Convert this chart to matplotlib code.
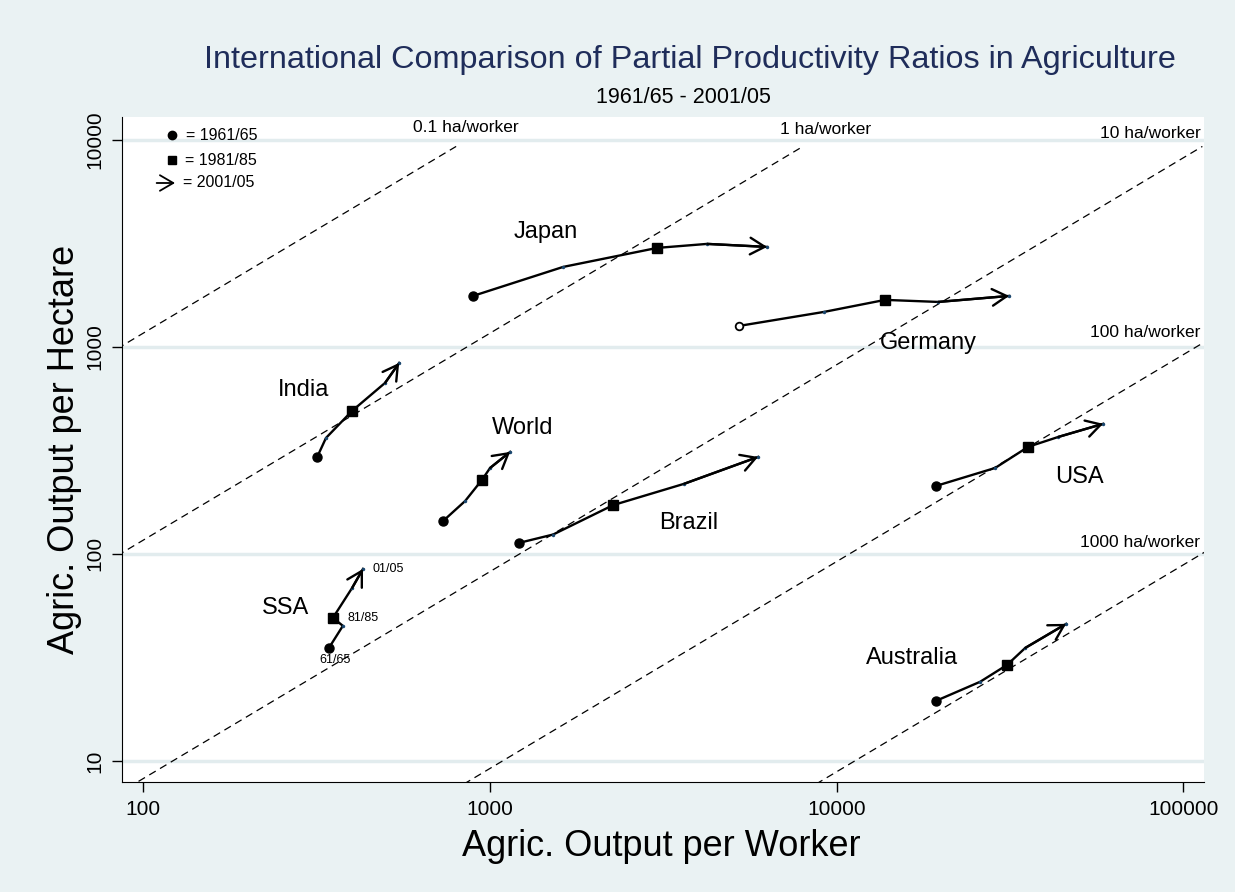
import matplotlib
matplotlib.use("Agg")
import matplotlib.pyplot as plt

plt.rcParams['font.family'] = ['Liberation Sans', 'DejaVu Sans']

# output per worker (x) and output per hectare (y) for
# 1961/65, 1971/75, 1981/85, 1991/95, 2001/05
countries = ["Japan", "Germany", "India", "World", "Brazil", "USA", "SSA", "Australia"]
japan_x = [895, 1627, 3039, 4236, 6308]
japan_y = [1763, 2434, 3008, 3145, 3041]
germany_x = [5237, 9206, 13804, 19640, 31470]
germany_y = [1263, 1476, 1687, 1649, 1763]
india_x = [318, 337, 401, 499, 548]
india_y = [294, 363, 491, 670, 837]
world_x = [733, 849, 950, 1002, 1145]
world_y = [144, 180, 228, 260, 311]
brazil_x = [1215, 1523, 2268, 3634, 5940]
brazil_y = [113, 124, 172, 218, 294]
usa_x = [19370, 28660, 35700, 43550, 58740]
usa_y = [213, 260, 329, 367, 425]
ssa_x = [344, 377, 353, 401, 431]
ssa_y = [35.2, 44.9, 49.1, 68.5, 84.6]
australia_x = [19370, 25950, 31050, 34990, 45930]
australia_y = [19.5, 24.1, 29.1, 35.1, 45.9]

# land per worker reference lines (ratio x/y as drawn in the picture)
line_ratio = [0.086, 0.86, 12.2, 109, 1130]
ha_labels = ["0.1 ha/worker", "1 ha/worker", "10 ha/worker", "100 ha/worker", "1000 ha/worker"]

bg = '#eaf2f3'
fig = plt.figure(figsize=(12.35, 8.92), dpi=100, facecolor=bg)
ax = fig.add_axes([0.0988, 0.1233, 0.8762, 0.7455])
ax.set_xscale('log')
ax.set_yscale('log')
ax.set_xlim(87, 114800)
ax.set_ylim(7.9, 12900)

for s in ['top', 'right']:
    ax.spines[s].set_visible(False)
ax.set_yticks([10, 100, 1000, 10000])
ax.set_yticklabels(["10", "100", "1000", "10000"], rotation=90, va='center')
ax.set_xticks([100, 1000, 10000, 100000])
ax.set_xticklabels(["100", "1000", "10000", "100000"])
ax.minorticks_off()
ax.tick_params(length=7, width=1, labelsize=15, pad=6)
ax.grid(axis='y', color='#e2ecee', linewidth=2.5)
ax.set_axisbelow(True)

# reference lines y = x / ratio, cut off below the labels
for r in line_ratio:
    ys = [1, 9300]
    xs = [y * r for y in ys]
    ax.plot(xs, ys, color='k', lw=0.9, ls=(0, (6, 4)))

lab_pos = [(601, 11430, 'left'), (6877, 11180, 'left'), (111900, 10690, 'right'),
           (111900, 1168, 'right'), (111900, 113, 'right')]
for (lx, ly, ha), t in zip(lab_pos, ha_labels):
    ax.text(lx, ly, t, fontsize=12.5, ha=ha, va='center')

series = [(japan_x, japan_y), (germany_x, germany_y), (india_x, india_y),
          (world_x, world_y), (brazil_x, brazil_y), (usa_x, usa_y),
          (ssa_x, ssa_y), (australia_x, australia_y)]

for name, (xs, ys) in zip(countries, series):
    ax.plot(xs, ys, color='k', lw=1.7, marker='o', ms=2.5,
            mfc='#1a476f', mec='none', zorder=3)
    if name == "Germany":
        ax.plot(xs[0], ys[0], 'o', ms=5.5, mfc='white', mec='k', mew=1.3, zorder=4)
    else:
        ax.plot(xs[0], ys[0], 'o', ms=6.5, color='k', zorder=4)
    ax.plot(xs[2], ys[2], 's', ms=6.5, color='k', zorder=4)
    ax.annotate('', xy=(xs[4], ys[4]), xytext=(xs[3], ys[3]),
                arrowprops=dict(arrowstyle='->,head_length=0.7,head_width=0.4',
                                lw=1.7, color='k', shrinkA=0, shrinkB=0,
                                mutation_scale=15), zorder=4)

name_pos = [(1453, 3594), (18380, 1045), (291, 620), (1240, 406),
            (3756, 141), (50100, 235.5), (258, 54.8), (16520, 31.4)]
for name, (lx, ly) in zip(countries, name_pos):
    ax.text(lx, ly, name, fontsize=17, ha='center', va='center')

ax.text(457.6, 84.6, "01/05", fontsize=9, va='center')
ax.text(387.7, 49.1, "81/85", fontsize=9, va='center')
ax.text(321.8, 30.8, "61/65", fontsize=9, va='center')

# legend for the periods
tr = ax.transAxes
ax.plot(0.0462, 0.973, 'o', ms=6, color='k', transform=tr, clip_on=False)
ax.plot(0.0462, 0.935, 's', ms=6, color='k', transform=tr, clip_on=False)
ax.annotate('', xy=(0.049, 0.9008), xytext=(0.032, 0.9008), xycoords=tr,
            arrowprops=dict(arrowstyle='->,head_length=0.6,head_width=0.35',
                            lw=1.3, color='k', shrinkA=0, shrinkB=0, mutation_scale=16))
ax.text(0.059, 0.972, "= 1961/65", fontsize=11.5, va='center', transform=tr)
ax.text(0.058, 0.935, "= 1981/85", fontsize=11.5, va='center', transform=tr)
ax.text(0.056, 0.9008, "= 2001/05", fontsize=11.5, va='center', transform=tr)

ax.set_xlabel("Agric. Output per Worker", fontsize=26)
ax.set_ylabel("Agric. Output per Hectare", fontsize=26)
ax.xaxis.set_label_coords(0.498, -0.071)
ax.yaxis.set_label_coords(-0.037, 0.5)

fig.text(0.5587, 0.9327, "International Comparison of Partial Productivity Ratios in Agriculture",
         fontsize=23.3, color='#1f2d5a', ha='center', va='center')
fig.text(0.553, 0.891, "1961/65 - 2001/05", fontsize=15.5, ha='center', va='center')

plt.savefig("out.png", dpi=100, facecolor=bg)
